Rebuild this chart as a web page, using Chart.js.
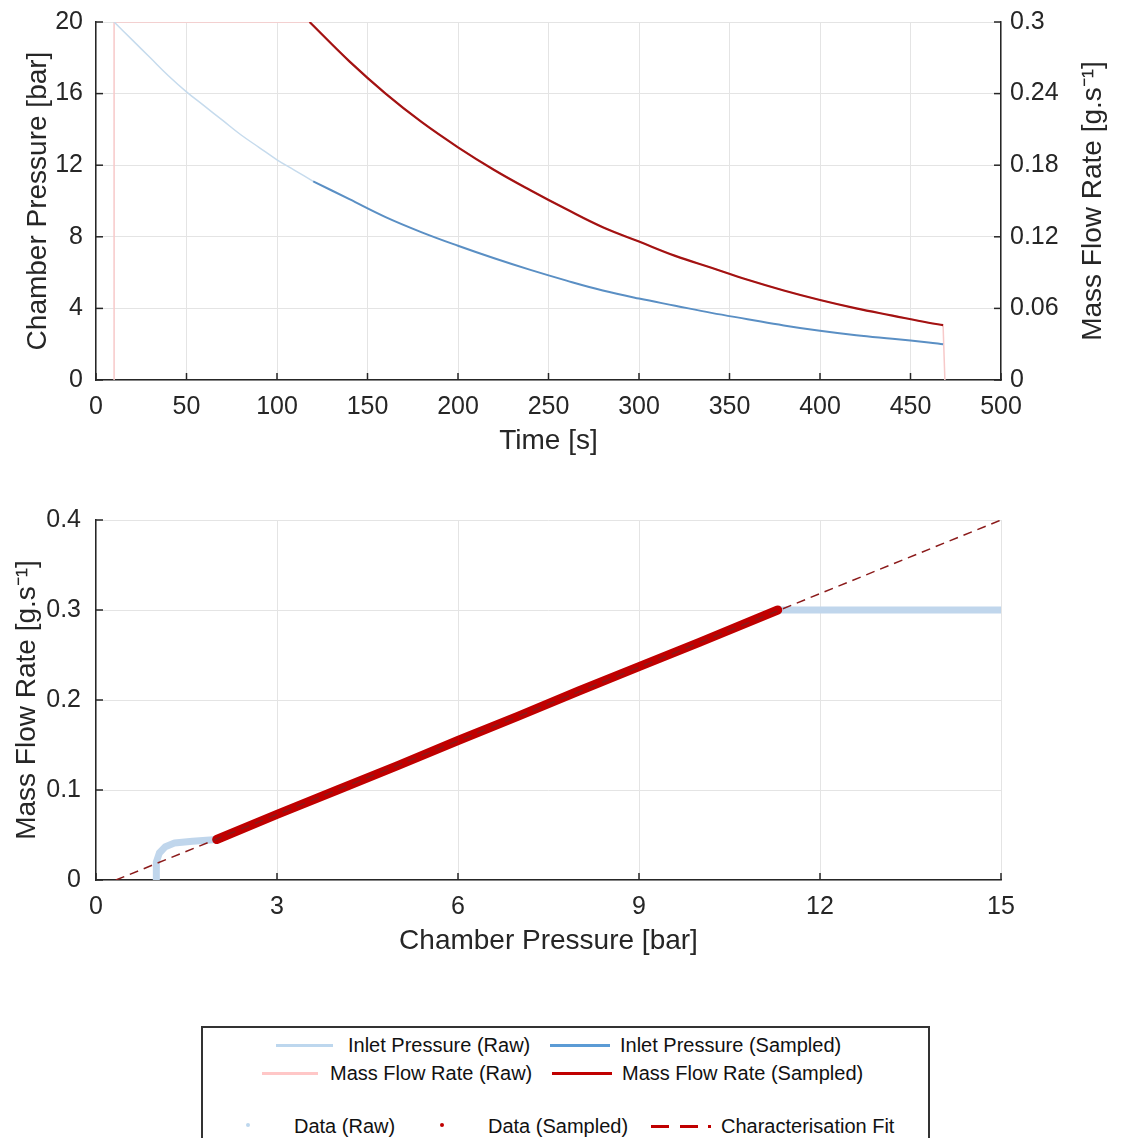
<!DOCTYPE html>
<html><head><meta charset="utf-8">
<script src="https://cdn.jsdelivr.net/npm/chart.js@4.4.1/dist/chart.umd.min.js"></script>
<style>
body{margin:0;background:#fff;width:1125px;height:1138px;overflow:hidden;position:relative;font-family:"Liberation Sans",Arial,sans-serif;}
canvas{position:absolute;left:0;}
#c1{top:0;}
#c2{top:480px;}
#legendBox{position:absolute;left:201px;top:1026px;width:729px;height:140px;border:2px solid #333;box-sizing:border-box;}
.lt{position:absolute;font-size:20px;color:#111;line-height:20px;white-space:nowrap;}
.ll{position:absolute;height:2.5px;}
.ld{position:absolute;width:4px;height:4px;border-radius:50%;}
</style></head><body>
<canvas id="c1" width="1125" height="470"></canvas>
<canvas id="c2" width="1125" height="490"></canvas>
<div id="legendBox"></div>
<div class="ll" style="left:276px;top:1044px;width:57px;background:#bdd7ee"></div>
<div class="lt" style="left:348px;top:1035px">Inlet Pressure (Raw)</div>
<div class="ll" style="left:550px;top:1044px;width:60px;background:#5b9bd5"></div>
<div class="lt" style="left:620px;top:1035px">Inlet Pressure (Sampled)</div>
<div class="ll" style="left:262px;top:1072px;width:56px;background:#ffc7c7"></div>
<div class="lt" style="left:330px;top:1063px">Mass Flow Rate (Raw)</div>
<div class="ll" style="left:552px;top:1072px;width:60px;background:#c00000"></div>
<div class="lt" style="left:622px;top:1063px">Mass Flow Rate (Sampled)</div>
<div class="ld" style="left:246px;top:1123px;background:#bdd7ee"></div>
<div class="lt" style="left:294px;top:1116px">Data (Raw)</div>
<div class="ld" style="left:440px;top:1123px;background:#c00000"></div>
<div class="lt" style="left:488px;top:1116px">Data (Sampled)</div>
<div class="ll" style="left:651px;top:1125px;width:18px;background:#c00000"></div>
<div class="ll" style="left:680px;top:1125px;width:18px;background:#c00000"></div>
<div class="ll" style="left:708px;top:1125px;width:3px;background:#c00000"></div>
<div class="lt" style="left:721px;top:1116px">Characterisation Fit</div>
<script>
// ---------- Top chart data ----------
const inletRawTime = [10, 20, 30, 40, 50, 60, 70, 80, 90, 100, 110, 120];
const inletRawPressure = [20.0, 19.0, 18.0, 17.0, 16.1, 15.3, 14.5, 13.7, 13.0, 12.3, 11.7, 11.1];
const inletSampledTime = [120, 140, 160, 180, 200, 220, 240, 260, 280, 300, 320, 340, 360, 380, 400, 420, 440, 460, 468];
const inletSampledPressure = [11.1, 10.1, 9.1, 8.25, 7.5, 6.8, 6.15, 5.55, 5.0, 4.55, 4.15, 3.75, 3.4, 3.05, 2.75, 2.5, 2.3, 2.1, 2.0];
const massRawTime = [10, 10, 118, 140, 160, 180, 200, 220, 240, 260, 280, 300, 320, 340, 360, 380, 400, 420, 440, 460, 468, 469];
const massRawRate = [0, 0.3, 0.3, 0.267, 0.240, 0.216, 0.195, 0.176, 0.159, 0.143, 0.128, 0.116, 0.104, 0.094, 0.084, 0.075, 0.067, 0.060, 0.054, 0.048, 0.046, 0];
const massSampledTime = [118, 140, 160, 180, 200, 220, 240, 260, 280, 300, 320, 340, 360, 380, 400, 420, 440, 460, 468];
const massSampledRate = [0.300, 0.267, 0.240, 0.216, 0.195, 0.176, 0.159, 0.143, 0.128, 0.116, 0.104, 0.094, 0.084, 0.075, 0.067, 0.060, 0.054, 0.048, 0.046];
const timeTicks = [0, 50, 100, 150, 200, 250, 300, 350, 400, 450, 500];
const pressureTicks = [0, 4, 8, 12, 16, 20];
const rateTicksTop = [0, 0.06, 0.12, 0.18, 0.24, 0.3];

// ---------- Bottom chart data ----------
const rawPressure = [1.0, 1.0, 1.05, 1.15, 1.3, 1.6, 2.0, 11.3, 15.1];
const rawRate = [0, 0.02, 0.03, 0.037, 0.041, 0.043, 0.045, 0.3, 0.3];
const sampledPressure = [2.0, 3, 4, 5, 6, 7, 8, 9, 10, 11.3];
const sampledRate = [0.045, 0.073, 0.100, 0.127, 0.155, 0.182, 0.210, 0.237, 0.264, 0.300];
const fitPressure = [0.33, 15];
const fitRate = [0, 0.4];
const chamberTicks = [0, 3, 6, 9, 12, 15];
const rateTicksBottom = [0, 0.1, 0.2, 0.3, 0.4];

const pts = (xs, ys) => xs.map((x, i) => ({x, y: ys[i]}));
const FONT = '"Liberation Sans", Arial, sans-serif';
const AX = '#262626';
const GRID = '#e4e4e4';

const inwardTicks = {
  id: 'inwardTicks',
  afterDraw(chart) {
    const ctx = chart.ctx, a = chart.chartArea;
    ctx.save(); ctx.strokeStyle = AX; ctx.lineWidth = 1.5;
    for (const s of Object.values(chart.scales)) {
      for (const t of s.ticks) {
        const p = s.getPixelForValue(t.value);
        ctx.beginPath();
        if (s.axis === 'x') { ctx.moveTo(p, a.bottom); ctx.lineTo(p, a.bottom - 7); }
        else if (s.position === 'left') { ctx.moveTo(a.left, p); ctx.lineTo(a.left + 7, p); }
        else { ctx.moveTo(a.right, p); ctx.lineTo(a.right - 7, p); }
        ctx.stroke();
      }
    }
    ctx.restore();
  }
};
// right-hand axis title, reading bottom-to-top like the left one
const rightTitle = {
  id: 'rightTitle',
  afterDraw(chart, args, opts) {
    const a = chart.chartArea, ctx = chart.ctx;
    ctx.save();
    ctx.translate(opts.x, (a.top + a.bottom) / 2);
    ctx.rotate(-Math.PI / 2);
    ctx.font = opts.size + 'px ' + FONT;
    ctx.fillStyle = AX; ctx.textAlign = 'center'; ctx.textBaseline = 'middle';
    ctx.fillText(opts.text, 0, 0);
    ctx.restore();
  }
};
const setTicks = arr => (s => { s.ticks = arr.map(v => ({value: v})); });
const fitWidth = w => (s => { s.width = w; s.paddingTop = 12; s.paddingBottom = 12; });
const tickFont = {family: FONT, size: 25};
const titleFont = {family: FONT, size: 28};

Chart.defaults.animation = false;

new Chart(document.getElementById('c1'), {
  type: 'line',
  data: {datasets: [
    {data: pts(massRawTime, massRawRate), yAxisID: 'y1', order: 4, borderColor: '#f7c9c9', borderWidth: 1.5, pointRadius: 0, tension: 0},
    {data: pts(inletRawTime, inletRawPressure), yAxisID: 'y', order: 3, borderColor: '#c6dbed', borderWidth: 1.5, pointRadius: 0, tension: 0.4},
    {data: pts(inletSampledTime, inletSampledPressure), yAxisID: 'y', order: 2, borderColor: '#5a8fc4', borderWidth: 2, pointRadius: 0, tension: 0.4},
    {data: pts(massSampledTime, massSampledRate), yAxisID: 'y1', order: 1, borderColor: '#a31212', borderWidth: 2.2, pointRadius: 0, tension: 0.4}
  ]},
  options: {
    responsive: false, animation: false,
    layout: {padding: {top: 22, left: 17, right: 13, bottom: 8}},
    plugins: {legend: {display: false}, tooltip: {enabled: false},
              rightTitle: {text: 'Mass Flow Rate [g.s\u207B\u00B9]', x: 1093, size: 28}},
    scales: {
      x: {type: 'linear', min: 0, max: 500, afterBuildTicks: setTicks(timeTicks),
          afterFit: s => { s.height = 82; },
          grid: {color: GRID, drawTicks: false}, border: {color: AX, width: 1.5},
          ticks: {font: tickFont, color: AX, padding: 12, callback: v => String(v), maxRotation: 0},
          title: {display: true, text: 'Time [s]', font: titleFont, color: AX}},
      y: {position: 'left', min: 0, max: 20, afterBuildTicks: setTicks(pressureTicks),
          afterFit: fitWidth(79),
          grid: {color: GRID, drawTicks: false}, border: {color: AX, width: 1.5},
          ticks: {font: tickFont, color: AX, padding: 13, callback: v => String(v)},
          title: {display: true, text: 'Chamber Pressure [bar]', font: titleFont, color: AX}},
      y1: {position: 'right', min: 0, max: 0.3, afterBuildTicks: setTicks(rateTicksTop),
          afterFit: fitWidth(111),
          grid: {display: false, drawTicks: false}, border: {color: AX, width: 1.5},
          ticks: {font: tickFont, color: AX, padding: 9, callback: v => String(v)},
          title: {display: false}}
    }
  },
  plugins: [inwardTicks, rightTitle]
});

new Chart(document.getElementById('c2'), {
  type: 'line',
  data: {datasets: [
    {data: pts(rawPressure, rawRate), order: 3, borderColor: '#c0d6ec', borderWidth: 7, pointRadius: 0, borderCapStyle: 'butt', borderJoinStyle: 'round', tension: 0},
    {data: pts(sampledPressure, sampledRate), order: 2, borderColor: '#c00000', borderWidth: 9, pointRadius: 0, borderCapStyle: 'round', tension: 0},
    {data: pts(fitPressure, fitRate), order: 1, borderColor: '#8b1a1a', borderWidth: 1.5, borderDash: [9, 6], pointRadius: 0, tension: 0}
  ]},
  options: {
    responsive: false, animation: false,
    layout: {padding: {top: 40, left: 6, right: 124, bottom: 8}},
    plugins: {legend: {display: false}, tooltip: {enabled: false}},
    scales: {
      x: {type: 'linear', min: 0, max: 15, afterBuildTicks: setTicks(chamberTicks),
          afterFit: s => { s.height = 82; },
          grid: {color: GRID, drawTicks: false}, border: {color: AX, width: 1.5},
          ticks: {font: tickFont, color: AX, padding: 12, callback: v => String(v), maxRotation: 0},
          title: {display: true, text: 'Chamber Pressure [bar]', font: titleFont, color: AX}},
      y: {position: 'left', min: 0, max: 0.4, afterBuildTicks: setTicks(rateTicksBottom),
          afterFit: fitWidth(90),
          grid: {color: GRID, drawTicks: false}, border: {color: AX, width: 1.5},
          ticks: {font: tickFont, color: AX, padding: 15, callback: v => String(v)},
          title: {display: true, text: 'Mass Flow Rate [g.s\u207B\u00B9]', font: titleFont, color: AX}}
    }
  },
  plugins: [inwardTicks]
});
</script>
</body></html>
